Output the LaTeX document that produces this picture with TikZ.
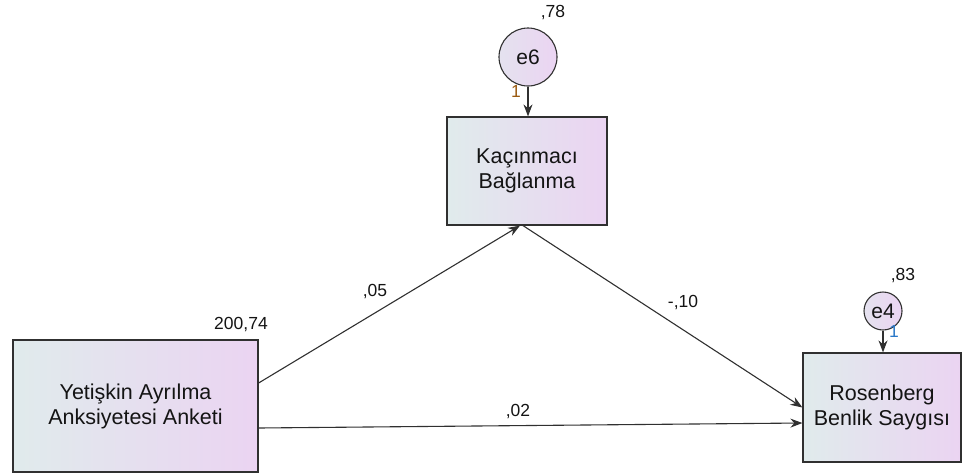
\documentclass[tikz,border=0pt]{standalone}
\usepackage{fontspec}
\setmainfont{Liberation Sans}
\usetikzlibrary{arrows.meta,shapes.geometric}
\definecolor{gleft}{HTML}{E0EBEC}
\definecolor{gright}{HTML}{EBD4F2}
\definecolor{edge}{HTML}{303030}
\definecolor{txt}{HTML}{141414}
\definecolor{one1}{HTML}{9A5A10}
\definecolor{one2}{HTML}{2A78C8}
\tikzset{
  varbox/.style={draw=edge, line width=1.2pt, left color=gleft, right color=gright,
    align=center, text=txt, font=\fontsize{21.5}{25}\selectfont, inner sep=0pt},
  errc/.style={circle, draw=edge, line width=1.1pt, left color=gleft!60!gright, right color=gright,
    text=txt, font=\fontsize{21}{24}\selectfont, inner sep=0pt},
  path/.style={draw=edge, line width=1.1pt, -{Stealth[length=12pt,width=9pt]}},
  num/.style={text=txt, font=\fontsize{17.5}{20}\selectfont, inner sep=0pt},
}
\begin{document}
\begin{tikzpicture}[x=1pt,y=-1pt]
\useasboundingbox (0,0) rectangle (963,474);
\node[varbox, minimum width=160pt, minimum height=108pt] (kac) at (527,171) {Kaçınmacı\\Bağlanma};
\node[varbox, minimum width=158pt, minimum height=109pt] (ros) at (882,407.5) {Rosenberg\\Benlik Saygısı};
\node[varbox, minimum width=245pt, minimum height=132pt] (yet) at (135.5,406) {Yetişkin Ayrılma\\Anksiyetesi Anketi};
\node[errc, minimum size=58pt] (e6) at (528,57) {e6};
\node[errc, minimum size=38pt] (e4) at (883,311) {e4};

\coordinate (y1) at ([yshift=23pt]yet.east);
\coordinate (y2) at ([yshift=-22pt]yet.east);
\coordinate (k1) at ([xshift=-7pt]kac.south);
\coordinate (k2) at ([xshift=-4pt]kac.south);
\coordinate (r1) at (ros.west);
\coordinate (r2) at ([yshift=-15.5pt]ros.west);

\draw[path] (e6.south) -- (kac.north -| e6.south);
\draw[path] (e4.south) -- (ros.north -| e4.south);
\draw[path] (y1) -- (k1);
\draw[path] (k2) -- (r1);
\draw[path] (y2) -- (r2);

\node[num] (l05) at (375,292) {,05};
\node[num] (l10) at (683,303) {-,10};
\node[num] (l02) at (518,412) {,02};
\node[num] (l200) at (241,325) {200,74};
\node[num] (l78) at (553,13) {,78};
\node[num] (l83) at (903,276) {,83};
\node[num, text=one1] (one6) at (516,91) {1};
\node[num, text=one2] (one4) at (894,331) {1};
\end{tikzpicture}
\end{document}
